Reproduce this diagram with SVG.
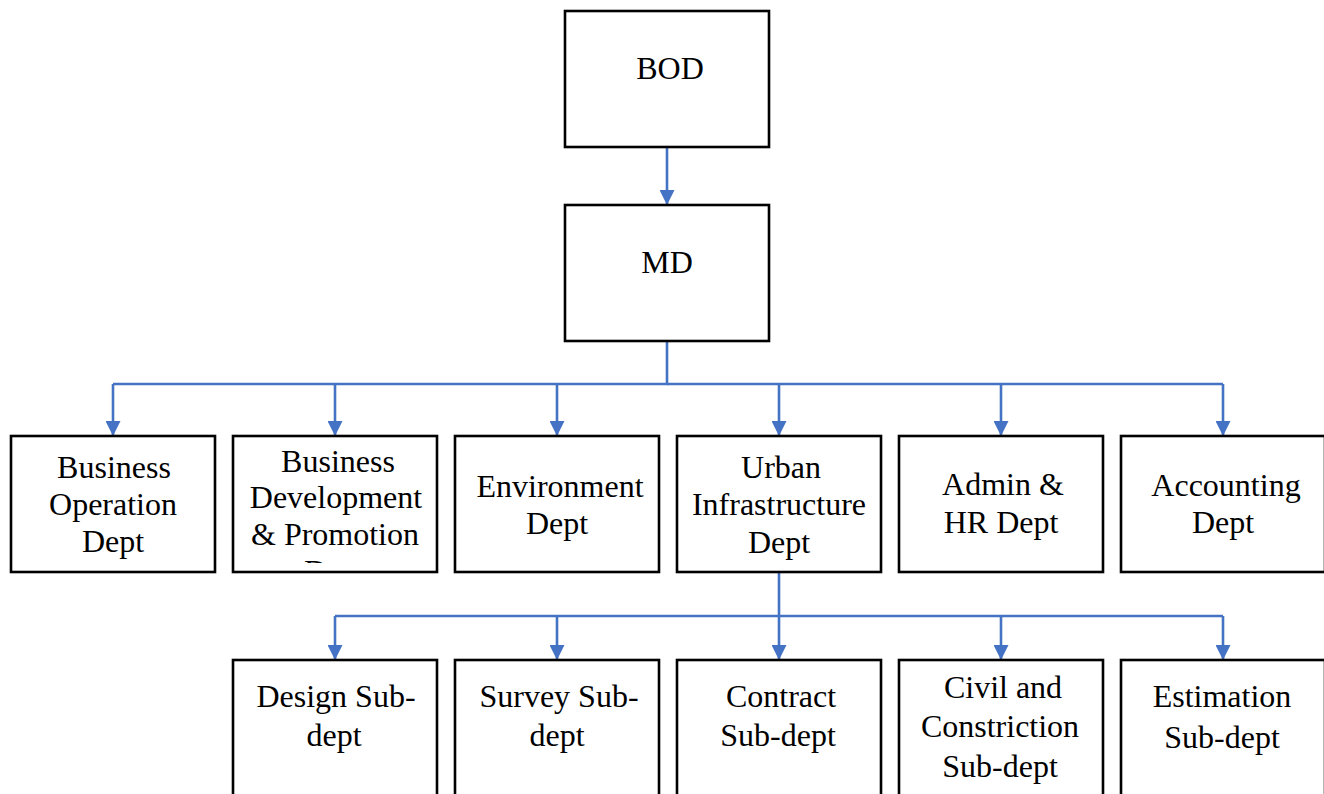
<svg xmlns="http://www.w3.org/2000/svg" width="1324" height="794" viewBox="0 0 1324 794">
  <style>
    .box { fill: #ffffff; stroke: #000000; stroke-width: 2.6; }
    .lbl { font-family: "Liberation Serif", "Times New Roman", serif; font-size: 32px; fill: #000000; text-anchor: middle; }
    .link { fill: none; stroke: #4472C4; stroke-width: 2.6; }
  </style>
  <defs>
    <marker id="arrow" viewBox="0 0 15 15" refX="15" refY="7.5" markerWidth="15" markerHeight="15" markerUnits="userSpaceOnUse" orient="auto">
      <path d="M0,0 L15,7.5 L0,15 Z" fill="#4472C4"/>
    </marker>
    <clipPath id="bdpClip">
      <rect x="233" y="436" width="204" height="127"/>
    </clipPath>
  </defs>

  <!-- connectors -->
  <g id="connectors">
    <path class="link" d="M667,147 V205" marker-end="url(#arrow)"/>
    <path class="link" d="M667,341 V384 H113"/>
    <path class="link" d="M667,384 H1223"/>
    <path class="link" d="M113,384 V436" marker-end="url(#arrow)"/>
    <path class="link" d="M335,384 V436" marker-end="url(#arrow)"/>
    <path class="link" d="M557,384 V436" marker-end="url(#arrow)"/>
    <path class="link" d="M779,384 V436" marker-end="url(#arrow)"/>
    <path class="link" d="M1001,384 V436" marker-end="url(#arrow)"/>
    <path class="link" d="M1223,384 V436" marker-end="url(#arrow)"/>
    <path class="link" d="M779,572 V660" marker-end="url(#arrow)"/>
    <path class="link" d="M335,616 H1223"/>
    <path class="link" d="M335,616 V660" marker-end="url(#arrow)"/>
    <path class="link" d="M557,616 V660" marker-end="url(#arrow)"/>
    <path class="link" d="M1001,616 V660" marker-end="url(#arrow)"/>
    <path class="link" d="M1223,616 V660" marker-end="url(#arrow)"/>
  </g>

  <!-- top levels -->
  <g id="bod">
    <rect class="box" x="565" y="11" width="204" height="136"/>
    <text class="lbl" x="670" y="79">BOD</text>
  </g>
  <g id="md">
    <rect class="box" x="565" y="205" width="204" height="136"/>
    <text class="lbl" x="667" y="273">MD</text>
  </g>

  <!-- departments -->
  <g id="business-operation">
    <rect class="box" x="11" y="436" width="204" height="136"/>
    <text class="lbl" x="114" y="478">Business</text>
    <text class="lbl" x="113" y="515">Operation</text>
    <text class="lbl" x="113" y="552">Dept</text>
  </g>
  <g id="business-development">
    <rect class="box" x="233" y="436" width="204" height="136"/>
    <g clip-path="url(#bdpClip)">
      <text class="lbl" x="338" y="472">Business</text>
      <text class="lbl" x="336" y="508">Development</text>
      <text class="lbl" x="335" y="545">&amp; Promotion</text>
      <text class="lbl" x="335" y="582">Dept</text>
    </g>
  </g>
  <g id="environment">
    <rect class="box" x="455" y="436" width="204" height="136"/>
    <text class="lbl" x="560" y="497">Environment</text>
    <text class="lbl" x="557" y="534">Dept</text>
  </g>
  <g id="urban-infrastructure">
    <rect class="box" x="677" y="436" width="204" height="136"/>
    <text class="lbl" x="781" y="478">Urban</text>
    <text class="lbl" x="779" y="515">Infrastructure</text>
    <text class="lbl" x="779" y="553">Dept</text>
  </g>
  <g id="admin-hr">
    <rect class="box" x="899" y="436" width="204" height="136"/>
    <text class="lbl" x="1003" y="495">Admin &amp;</text>
    <text class="lbl" x="1001" y="533">HR Dept</text>
  </g>
  <g id="accounting">
    <rect class="box" x="1121" y="436" width="204" height="136"/>
    <text class="lbl" x="1226" y="496">Accounting</text>
    <text class="lbl" x="1223" y="533">Dept</text>
  </g>

  <!-- sub-departments -->
  <g id="design">
    <rect class="box" x="233" y="660" width="204" height="160"/>
    <text class="lbl" x="336" y="707">Design Sub-</text>
    <text class="lbl" x="334" y="746">dept</text>
  </g>
  <g id="survey">
    <rect class="box" x="455" y="660" width="204" height="160"/>
    <text class="lbl" x="559" y="707">Survey Sub-</text>
    <text class="lbl" x="557" y="746">dept</text>
  </g>
  <g id="contract">
    <rect class="box" x="677" y="660" width="204" height="160"/>
    <text class="lbl" x="781" y="707">Contract</text>
    <text class="lbl" x="778" y="746">Sub-dept</text>
  </g>
  <g id="civil-construction">
    <rect class="box" x="899" y="660" width="204" height="160"/>
    <text class="lbl" x="1003" y="698">Civil and</text>
    <text class="lbl" x="1000" y="737">Constriction</text>
    <text class="lbl" x="1000" y="777">Sub-dept</text>
  </g>
  <g id="estimation">
    <rect class="box" x="1121" y="660" width="204" height="160"/>
    <text class="lbl" x="1222" y="707">Estimation</text>
    <text class="lbl" x="1222" y="748">Sub-dept</text>
  </g>
</svg>
